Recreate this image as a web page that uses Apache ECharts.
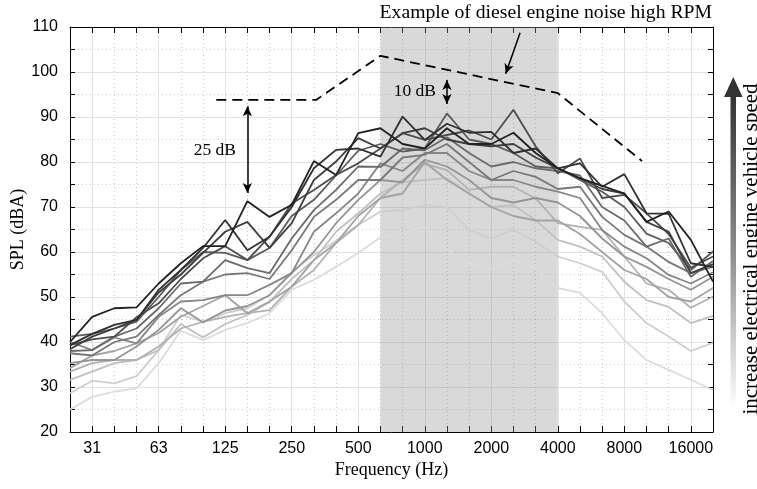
<!DOCTYPE html>
<html>
<head>
<meta charset="utf-8">
<script src="https://cdn.jsdelivr.net/npm/echarts@6/dist/echarts.min.js"></script>
<style>
  html, body { margin: 0; padding: 0; background: #fff; overflow: hidden; }
  #chart { width: 757px; height: 489px; }
</style>
</head>
<body>
<div id="chart"></div>
<script>
// Third-octave band centres (Hz), as labelled on the frequency axis
const bands = ['25','31','40','50','63','80','100','125','160','200','250','315','400','500','630',
               '800','1000','1250','1600','2000','2500','3150','4000','5000','6300','8000','10000','12500','16000','20000'];
const octaveLabels = ['31','63','125','250','500','1000','2000','4000','8000','16000'];

// Measured A-weighted SPL per band (dBA), loudest / darkest run first
const spl01 = [40, 45.6, 47.5, 47.7, 53, 57.5, 61.3, 61.3, 71.3, 67.8, 70.5, 80.2, 77.1, 86.4, 87.5, 84, 83, 87.5, 84, 84, 86.5, 82, 78.6, 76.4, 74.7, 73, 66.7, 69, 62.7, 53.4];
const spl02 = [39.3, 41.8, 43.8, 44.9, 51.6, 56, 60.9, 67.1, 60.4, 63.4, 70, 78.6, 82.7, 83, 81.2, 90.1, 84.9, 88.5, 86.5, 86.7, 82, 83, 78.6, 79.7, 74.5, 77.3, 68.6, 68.5, 57.5, 56.7];
const spl03 = [38.4, 41.2, 43, 44.9, 51, 55, 59.8, 64.5, 66.7, 60.9, 66.4, 76, 80.1, 85.3, 83, 86.4, 87.5, 85, 84, 83.5, 84, 81, 78.6, 76.4, 74, 73, 66.7, 64.5, 55.3, 57.3];
const spl04 = [39.3, 40.6, 41.2, 45.5, 48.6, 54, 58.6, 61.3, 58.2, 63.4, 70.8, 73.8, 77.1, 79.7, 83, 86.4, 84.9, 86, 87, 85, 91.6, 83.5, 77.5, 80.8, 72, 72.7, 68.6, 64, 56.5, 59];
const spl05 = [41.2, 41.8, 43, 44.5, 50, 56, 60, 59.8, 58.2, 60.9, 68, 71.6, 77, 82.5, 84, 82.3, 83, 90.8, 85, 84, 82, 79, 78.6, 76, 73.4, 70, 64.1, 62, 56, 60.1];
const spl06 = [38, 38.2, 41.2, 43, 47.5, 53, 53.4, 58.2, 56.4, 55.3, 63, 69.3, 73.8, 79, 78.9, 83, 82.6, 85.5, 82, 79, 80, 78.6, 78, 77, 70, 67, 61.2, 63, 54.5, 58];
const spl07 = [37.5, 37, 40, 41.2, 46, 50.4, 53.4, 55, 55.3, 54, 60.4, 67.8, 71.6, 76, 76, 81, 81.6, 84, 80, 76, 78, 76.7, 74, 74.5, 67.8, 63.8, 61.2, 57.8, 55.3, 56.7];
const spl08 = [40, 38.2, 41, 39.7, 45.6, 49, 49.3, 50.4, 50.4, 52.7, 55.3, 64.5, 68.6, 73, 79.7, 78, 82, 82, 78, 76, 76, 74.5, 73.4, 72, 64.9, 61.2, 58.6, 54.9, 53, 55.5];
const spl09 = [35.3, 36, 36, 39, 42.7, 47.5, 44.4, 47, 48, 50.4, 55.3, 60, 66.4, 71.6, 76, 75.5, 80.5, 79, 76, 72, 71, 72, 71, 68, 63, 59, 56.7, 54, 51.6, 54.5];
const spl10 = [34.2, 37, 38, 39.7, 42, 45.6, 48, 50.4, 46.4, 49, 52.3, 58.2, 62, 68, 72, 73, 80, 76, 73, 70, 68, 67, 67, 64, 60, 56, 54, 50, 49, 52];
const spl11 = [33.4, 35.3, 36, 36, 39, 43, 44.5, 45.6, 46.4, 47.1, 52.3, 56, 62, 66, 72, 76, 79.6, 78.2, 73.8, 74.5, 74.5, 71.9, 66.4, 65.6, 64.9, 59, 53, 51.6, 47.6, 50.1];
const spl12 = [31.6, 33.4, 35.3, 36, 38.2, 44, 41, 44, 46, 48.9, 54, 58.2, 64.5, 68.6, 73, 75.5, 76, 76.4, 73, 70, 70.4, 67.1, 62.7, 61.2, 59, 53.4, 49.3, 47.8, 44.2, 45.8];
const spl13 = [28.6, 31.4, 30.8, 32.4, 38.2, 46, 44.5, 46.4, 47.5, 50.4, 55.6, 59.3, 62.5, 66, 69, 69.3, 70.4, 69.9, 64.9, 63, 64.9, 62.3, 59, 57.5, 55.6, 49, 44.2, 41.2, 38, 39.8];
const spl14 = [25, 27.8, 29, 29.7, 35.3, 42.5, 40.4, 42.7, 44.2, 46.4, 51.6, 53.8, 56.7, 59.8, 63.3, 64.2, 65.6, 60.4, 57.5, 56.2, 58.2, 56.4, 52, 50.9, 46.4, 40.4, 36, 33.8, 31.6, 29.3];

// quietest first so the louder (darker) runs sit on top
const runs = [spl14, spl13, spl12, spl11, spl10, spl09, spl08, spl07, spl06, spl05, spl04, spl03, spl02, spl01];
const runGrays = ['#dcdcdc','#cecece','#c0c0c0','#b2b2b2','#a3a3a3','#959595','#878787',
                  '#787878','#6a6a6a','#5c5c5c','#4d4d4d','#3f3f3f','#303030','#222222'];

// Shaded band of interest
const shadeFrom = '630';
const shadeTo = '4000';

// Diesel engine reference envelope (band index, dBA)
const dieselBand  = [6.6, 11.1, 14, 22, 25.8];
const dieselLevel = [93.8, 93.8, 103.6, 95.3, 80.2];

// Level-difference arrows (band index, dBA from -> to)
const gap25 = { band: 8,  from: 92.4, to: 73.1 };
const gap10 = { band: 17, from: 98.2, to: 92.9 };
const pointer = { fromBand: 20.3, fromLevel: 108.7, toBand: 19.65, toLevel: 99.6 };

const SERIF = '"Liberation Serif", "Times New Roman", serif';
const SANS = '"Liberation Sans", Arial, sans-serif';

const chart = echarts.init(document.getElementById('chart'), null, { renderer: 'canvas' });

const isOctave = (i, v) => octaveLabels.includes(v);
const gridSolid = { color: '#e2e2e2', width: 1 };
const gridDotted = { color: '#c9c9c9', width: 1, type: [1, 3] };

const series = [];

// shaded frequency band
series.push({
  type: 'line', xAxisIndex: 0, yAxisIndex: 0, data: [], silent: true, z: 1,
  markArea: {
    silent: true,
    itemStyle: { color: 'rgba(150,150,150,0.36)' },
    data: [[{ xAxis: shadeFrom }, { xAxis: shadeTo }]]
  }
});

runs.forEach((vals, k) => {
  series.push({
    type: 'line', xAxisIndex: 0, yAxisIndex: 0,
    data: vals, symbol: 'none', silent: true, z: 3 + k,
    lineStyle: { color: runGrays[k], width: 1.8 }
  });
});

series.push({
  type: 'line', xAxisIndex: 3, yAxisIndex: 0, silent: true, z: 30,
  data: dieselBand.map((b, i) => [b, dieselLevel[i]]),
  symbol: 'none',
  lineStyle: { color: '#000', width: 1.8, type: [10, 6] },
  markLine: {
    silent: true,
    animation: false,
    symbol: ['arrow', 'arrow'],
    symbolSize: [7, 10],
    label: { show: false },
    lineStyle: { type: 'solid', color: '#000', width: 1.5 },
    data: [
      [{ coord: [gap25.band, gap25.from] }, { coord: [gap25.band, gap25.to] }],
      [{ coord: [gap10.band, gap10.from] }, { coord: [gap10.band, gap10.to] }],
      [{ coord: [pointer.fromBand, pointer.fromLevel], symbol: 'none' },
       { coord: [pointer.toBand, pointer.toLevel], symbol: 'arrow' }]
    ]
  }
});

const option = {
  animation: false,
  backgroundColor: '#fff',
  grid: { left: 70, right: 44, top: 27, bottom: 57, containLabel: false, outerBoundsMode: 'none' },
  xAxis: [
    {
      type: 'category', data: bands, boundaryGap: false, position: 'bottom',
      axisLine: { show: true, lineStyle: { color: '#000', width: 1 } },
      axisTick: { show: true, inside: true, length: 6, interval: 0, lineStyle: { color: '#000' } },
      axisLabel: { interval: isOctave, margin: 9, color: '#000', fontFamily: SANS, fontSize: 16 },
      splitLine: { show: true, interval: isOctave, lineStyle: gridSolid },
      name: 'Frequency (Hz)', nameLocation: 'middle', nameGap: 29, nameMoveOverlap: false,
      nameTextStyle: { color: '#000', fontFamily: SERIF, fontSize: 18 }
    },
    {
      type: 'category', data: bands, boundaryGap: false, position: 'bottom',
      axisLine: { show: false }, axisTick: { show: false }, axisLabel: { show: false },
      splitLine: { show: true, interval: (i, v) => !octaveLabels.includes(v), lineStyle: gridDotted }
    },
    {
      type: 'category', data: bands, boundaryGap: false, position: 'top',
      axisLine: { show: true, lineStyle: { color: '#000', width: 1 } },
      axisTick: { show: true, inside: true, length: 6, interval: 0, lineStyle: { color: '#000' } },
      axisLabel: { show: false }, splitLine: { show: false }
    },
    { type: 'value', min: 0, max: bands.length - 1, show: false }
  ],
  yAxis: [
    {
      type: 'value', min: 20, max: 110, interval: 10, position: 'left',
      axisLine: { show: true, lineStyle: { color: '#000', width: 1 } },
      axisTick: { show: true, inside: true, length: 5, lineStyle: { color: '#000' } },
      minorTick: { show: true, splitNumber: 2, length: 5, lineStyle: { color: '#000' } },
      axisLabel: { margin: 12, color: '#000', fontFamily: SANS, fontSize: 16 },
      splitLine: { show: true, lineStyle: gridSolid },
      minorSplitLine: { show: true, lineStyle: gridDotted },
      name: 'SPL (dBA)', nameLocation: 'middle', nameGap: 43, nameRotate: 90, nameMoveOverlap: false,
      nameTextStyle: { color: '#000', fontFamily: SERIF, fontSize: 18 }
    },
    {
      type: 'value', min: 20, max: 110, interval: 5, position: 'right',
      axisLine: { show: true, lineStyle: { color: '#000', width: 1 } },
      axisTick: { show: true, inside: true, length: 5, lineStyle: { color: '#000' } },
      axisLabel: { show: false }, splitLine: { show: false }
    }
  ],
  graphic: [
    {
      type: 'text', x: 236, y: 150, silent: true, z: 100,
      style: { text: '25 dB', font: '17.5px ' + SERIF, fill: '#000', align: 'right', verticalAlign: 'middle' }
    },
    {
      type: 'text', x: 436, y: 91, silent: true, z: 100,
      style: { text: '10 dB', font: '17.5px ' + SERIF, fill: '#000', align: 'right', verticalAlign: 'middle' }
    },
    {
      type: 'text', x: 712, y: 13, silent: true, z: 100,
      style: { text: 'Example of diesel engine noise high RPM', font: '19.7px ' + SERIF, fill: '#000', align: 'right', verticalAlign: 'middle' }
    },
    {
      type: 'rect', silent: true, z: 100,
      shape: { x: 730.5, y: 94, width: 5.5, height: 314 },
      style: {
        fill: new echarts.graphic.LinearGradient(0, 0, 0, 1, [
          { offset: 0, color: '#333333' },
          { offset: 0.5, color: '#8c8c8c' },
          { offset: 1, color: '#ffffff' }
        ])
      }
    },
    {
      type: 'polygon', silent: true, z: 100,
      shape: { points: [[733.3, 77], [724, 97], [742.6, 97]] },
      style: { fill: '#333333' }
    },
    {
      type: 'text', x: 751, y: 249, rotation: Math.PI / 2, silent: true, z: 100,
      style: { text: 'increase electrical engine vehicle speed', font: '21px ' + SERIF, fill: '#000', align: 'center', verticalAlign: 'middle' }
    }
  ],
  series: series
};

chart.setOption(option);
</script>
</body>
</html>
